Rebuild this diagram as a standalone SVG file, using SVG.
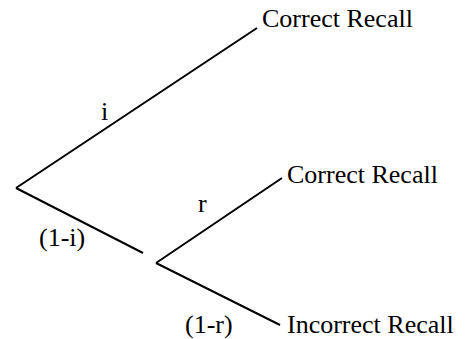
<svg xmlns="http://www.w3.org/2000/svg" width="467" height="339" viewBox="0 0 467 339">
<style>
.t{font-family:'Liberation Serif','Times New Roman',serif;font-size:26px;fill:#000}
line{stroke:#000;stroke-width:2;fill:none}
</style>
<rect width="467" height="339" fill="#fff"/>
<g id="connectors">
<line x1="16" y1="188" x2="257" y2="28"/>
<line x1="16" y1="188" x2="143" y2="253"/>
<line x1="156" y1="263" x2="282" y2="178"/>
<line x1="156" y1="263" x2="280" y2="325"/>
</g>
<g id="n-correct1"><text class="t" x="262" y="27" font-family="Liberation Serif">Correct Recall</text></g>
<g id="n-correct2"><text class="t" x="287" y="183" font-family="Liberation Serif">Correct Recall</text></g>
<g id="n-incorrect"><text class="t" x="287" y="333" font-family="Liberation Serif">Incorrect Recall</text></g>
<g id="labels">
<text class="t" x="101" y="120" font-family="Liberation Serif">i</text>
<text class="t" x="198" y="212" font-family="Liberation Serif">r</text>
<text class="t" x="39" y="246" font-family="Liberation Serif">(1-i)</text>
<text class="t" x="185" y="333" font-family="Liberation Serif">(1-r)</text>
</g>
</svg>
